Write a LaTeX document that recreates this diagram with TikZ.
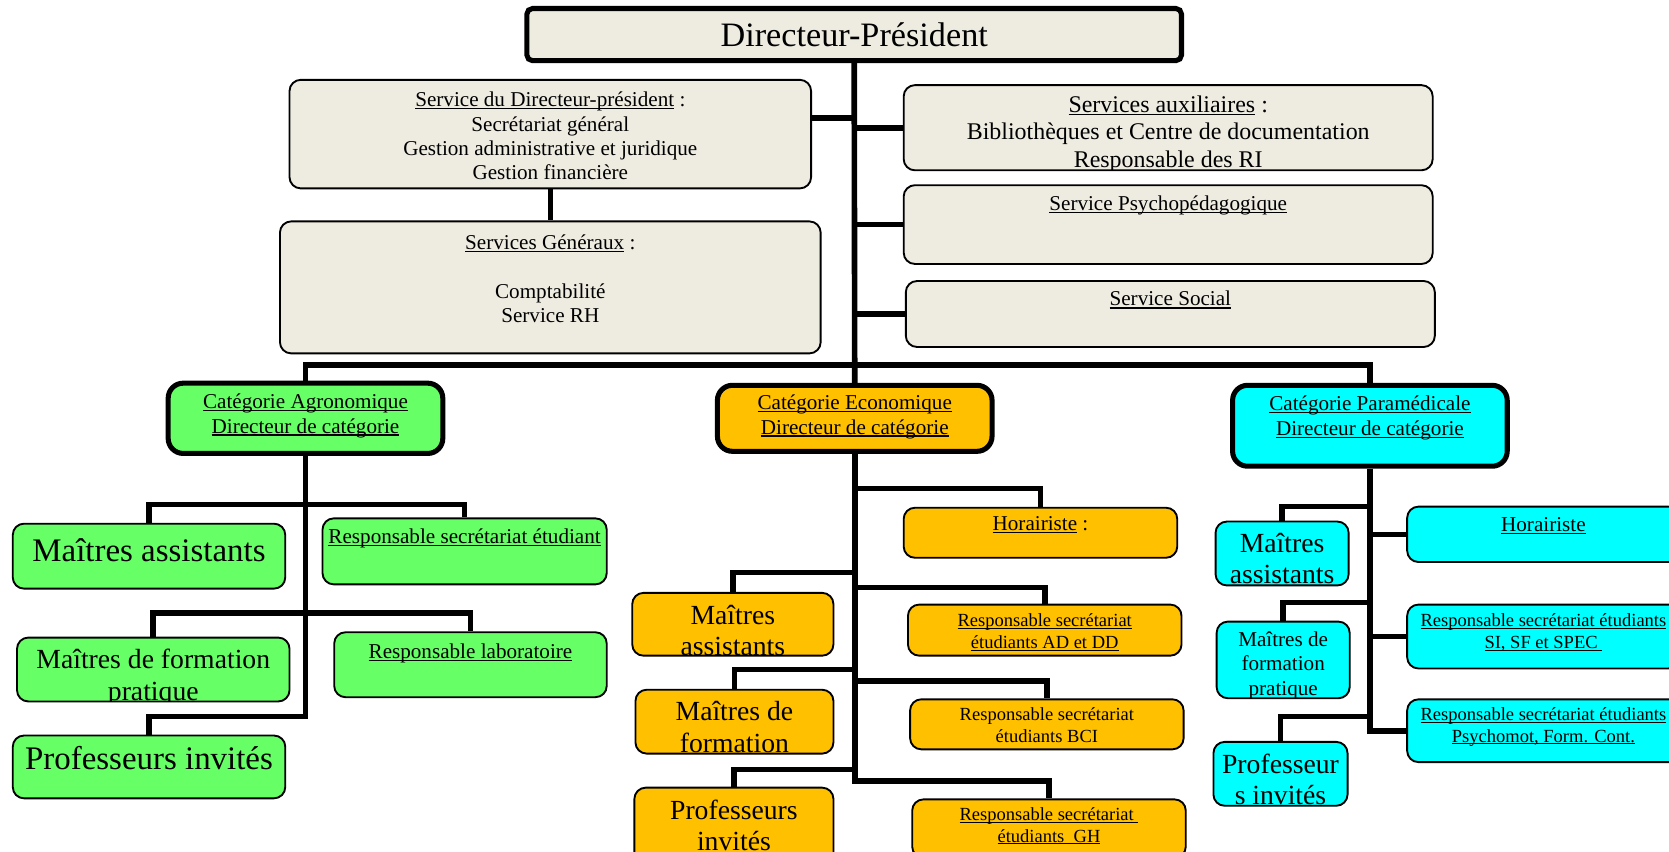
\documentclass[tikz,border=0pt]{standalone}
\usepackage{fontspec}
\setmainfont{Liberation Serif}
\usetikzlibrary{calc,fit}

\definecolor{beige}{HTML}{EEECE1}
\definecolor{agrogreen}{HTML}{66FF66}
\definecolor{ecoorange}{HTML}{FFC000}
\definecolor{paracyan}{HTML}{00FFFF}

\newcommand{\fsTop}{\fontsize{18.3}{21}\selectfont}
\newcommand{\fsBig}{\fontsize{17.6}{20}\selectfont}
\newcommand{\fsMid}{\fontsize{14.8}{16.8}\selectfont}
\newcommand{\fsAux}{\fontsize{12.8}{14.7}\selectfont}
\newcommand{\fsText}{\fontsize{11.3}{13}\selectfont}
\newcommand{\fsSmall}{\fontsize{9.9}{11.6}\selectfont}

\newcommand{\undl}[1]{\leavevmode\setbox0=\hbox{#1}\rlap{\rule[-0.12em]{\wd0}{0.055em}}\box0\relax}

% name, style, corner, corner, font, top pad, text
\newcommand{\orgbox}[7]{%
  \node[#2, fit={(#3) (#4)}] (#1) {};
  \begin{scope}
    \clip[rounded corners=5pt] ($(#1.south west)+(1,-2)$) rectangle ($(#1.north east)+(-1,2)$);
    \node[txt, font=#5, anchor=north] at ($(#1.north)+(0,#6)$) {\strut #7};
  \end{scope}}

\tikzset{
  box/.style={draw, line width=1pt, rounded corners=6pt, inner sep=0pt},
  headbox/.style={box, line width=2.7pt, rounded corners=8pt},
  txt/.style={inner sep=0pt, align=center},
  link/.style={line width=3pt},
}

\begin{document}
\begin{tikzpicture}[x=0.02cm, y=-0.02cm]
  \useasboundingbox (0,0) rectangle (1568,800);
  \fill[white] (0,0) rectangle (1568,800);
  \clip (0,0) rectangle (1568,800);

  % direction
  \orgbox{dp}{headbox, fill=beige, rounded corners=3pt}{495,8}{1110,57}{\fsTop}{12}{Directeur-Président}
  \orgbox{sdp}{box, fill=beige}{272,75}{762,177}{\fsText}{10}{\undl{Service du Directeur-président} :\\Secrétariat général\\Gestion administrative et juridique\\Gestion financière}
  \orgbox{sg}{box, fill=beige}{263,208}{771,332}{\fsText}{11}{\undl{Services Généraux} :\\~\\Comptabilité\\Service RH}
  \orgbox{saux}{box, fill=beige}{849,80}{1346,160}{\fsAux}{8}{\undl{Services auxiliaires} :\\Bibliothèques et Centre de documentation\\Responsable des RI}
  \orgbox{psy}{box, fill=beige}{849,174}{1346,248}{\fsText}{8}{\undl{Service Psychopédagogique}}
  \orgbox{soc}{box, fill=beige}{851,264}{1348,326}{\fsText}{8}{\undl{Service Social}}

  % categories
  \orgbox{agro}{headbox, fill=agrogreen}{158,360}{416,426}{\fsText}{10}{\undl{Catégorie Agronomique}\\\undl{Directeur de catégorie}}
  \orgbox{eco}{headbox, fill=ecoorange}{674,362}{932,424}{\fsText}{9}{\undl{Catégorie Economique}\\\undl{Directeur de catégorie}}
  \orgbox{para}{headbox, fill=paracyan}{1158,362}{1416,438}{\fsText}{10}{\undl{Catégorie Paramédicale}\\\undl{Directeur de catégorie}}

  % agronomique
  \orgbox{ama}{box, fill=agrogreen}{12,492}{268,553}{\fsBig}{11}{Maîtres assistants}
  \orgbox{arse}{box, fill=agrogreen}{303,487}{570,549}{\fsText}{8}{\undl{Responsable secrétariat étudiant}}
  \orgbox{amf}{box, fill=agrogreen}{16,599}{272,659}{\fontsize{14.8}{17.2}\selectfont}{8}{Maîtres de formation\\pratique}
  \orgbox{arl}{box, fill=agrogreen}{314,594}{570,655}{\fsText}{9}{\undl{Responsable laboratoire}}
  \orgbox{apr}{box, fill=agrogreen}{12,691}{268,750}{\fsBig}{8}{Professeurs invités}

  % economique
  \orgbox{ehor}{box, fill=ecoorange}{849,477}{1106,524}{\fsText}{6}{\undl{Horairiste} :}
  \orgbox{ema}{box, fill=ecoorange}{594,557}{783,616}{\fsMid}{9.5}{Maîtres\\assistants}
  \orgbox{ead}{box, fill=ecoorange}{853,568}{1110,616}{\fsSmall}{7}{\undl{Responsable secrétariat}\\\undl{étudiants AD et DD}}
  \orgbox{emf}{box, fill=ecoorange}{597,648}{783,708}{\fsMid}{9}{Maîtres de\\formation}
  \orgbox{ebci}{box, fill=ecoorange}{855,657}{1112,704}{\fsSmall}{6}{Responsable secrétariat\\étudiants BCI}
  \orgbox{epr}{box, fill=ecoorange}{596,740}{783,812}{\fsMid}{9.5}{Professeurs\\invités}
  \orgbox{egh}{box, fill=ecoorange}{857,751}{1114,806}{\fsSmall}{6}{\undl{Responsable secrétariat\ }\\\undl{étudiants\ \ GH}}

  % paramedicale
  \orgbox{pma}{box, fill=paracyan}{1142,490}{1267,550}{\fsMid}{9}{Maîtres\\assistants}
  \orgbox{phor}{box, fill=paracyan}{1322,476}{1578,528}{\fsText}{8}{\undl{Horairiste}}
  \orgbox{pmf}{box, fill=paracyan}{1143,584}{1268,656}{\fsText}{8}{Maîtres de\\formation\\pratique}
  \orgbox{psi}{box, fill=paracyan}{1322,568}{1578,628}{\fsSmall}{7}{\undl{Responsable secrétariat étudiants}\\\undl{SI, SF et SPEC\ }}
  \orgbox{ppr}{box, fill=paracyan}{1140,697}{1266,757}{\fsMid}{9.5}{Professeur\\s invités}
  \orgbox{ppsy}{box, fill=paracyan}{1322,657}{1578,716}{\fsSmall}{6}{\undl{Responsable secrétariat étudiants}\\\undl{Psychomot, Form. Cont.}}

  % links
  \coordinate (bar) at (802,343);
  \coordinate (jsdp) at (802,111);
  \draw[link] (dp.south) -- (eco.north);
  \draw[link] (agro.north) |- (bar) -| (para.north);
  \draw[link] (sdp.east |- jsdp) -- (jsdp);
  \draw[link] (sdp.south) -- (sg.north);
  \draw[link] (saux.west) -- (saux.west -| dp.south);
  \draw[link] (psy.west) -- (psy.west -| dp.south);
  \draw[link] (soc.west) -- (soc.west -| dp.south);

  \coordinate (a1) at (287,474);
  \coordinate (a2) at (287,576);
  \coordinate (a3) at (287,673);
  \draw[link] (agro.south) -- (a3) -| (apr.north);
  \draw[link] (ama.north) |- (a1) -| (arse.north);
  \draw[link] (amf.north) |- (a2) -| (arl.north);

  \coordinate (e1) at (803,459);
  \coordinate (e2) at (803,538);
  \coordinate (e3) at (803,552);
  \coordinate (e4) at (803,629);
  \coordinate (e5) at (803,640);
  \coordinate (e6) at (803,723);
  \coordinate (e7) at (803,734);
  \draw[link] (eco.south) -- (e7) -| (egh.north);
  \draw[link] (e1) -| (ehor.north);
  \draw[link] (ema.north) |- (e2);
  \draw[link] (e3) -| (ead.north);
  \draw[link] (emf.north) |- (e4);
  \draw[link] (e5) -| (ebci.north);
  \draw[link] (epr.north) |- (e6);

  \coordinate (p1) at (1287,476);
  \coordinate (p3) at (1287,566);
  \coordinate (p5) at (1287,673);
  \draw[link] (para.south) |- (ppsy.west);
  \draw[link] (phor.west -| para.south) -- (phor.west);
  \draw[link] (psi.west -| para.south) -- (psi.west);
  \draw[link] (pma.north) |- (p1);
  \draw[link] (pmf.north) |- (p3);
  \draw[link] (ppr.north) |- (p5);
\end{tikzpicture}
\end{document}
